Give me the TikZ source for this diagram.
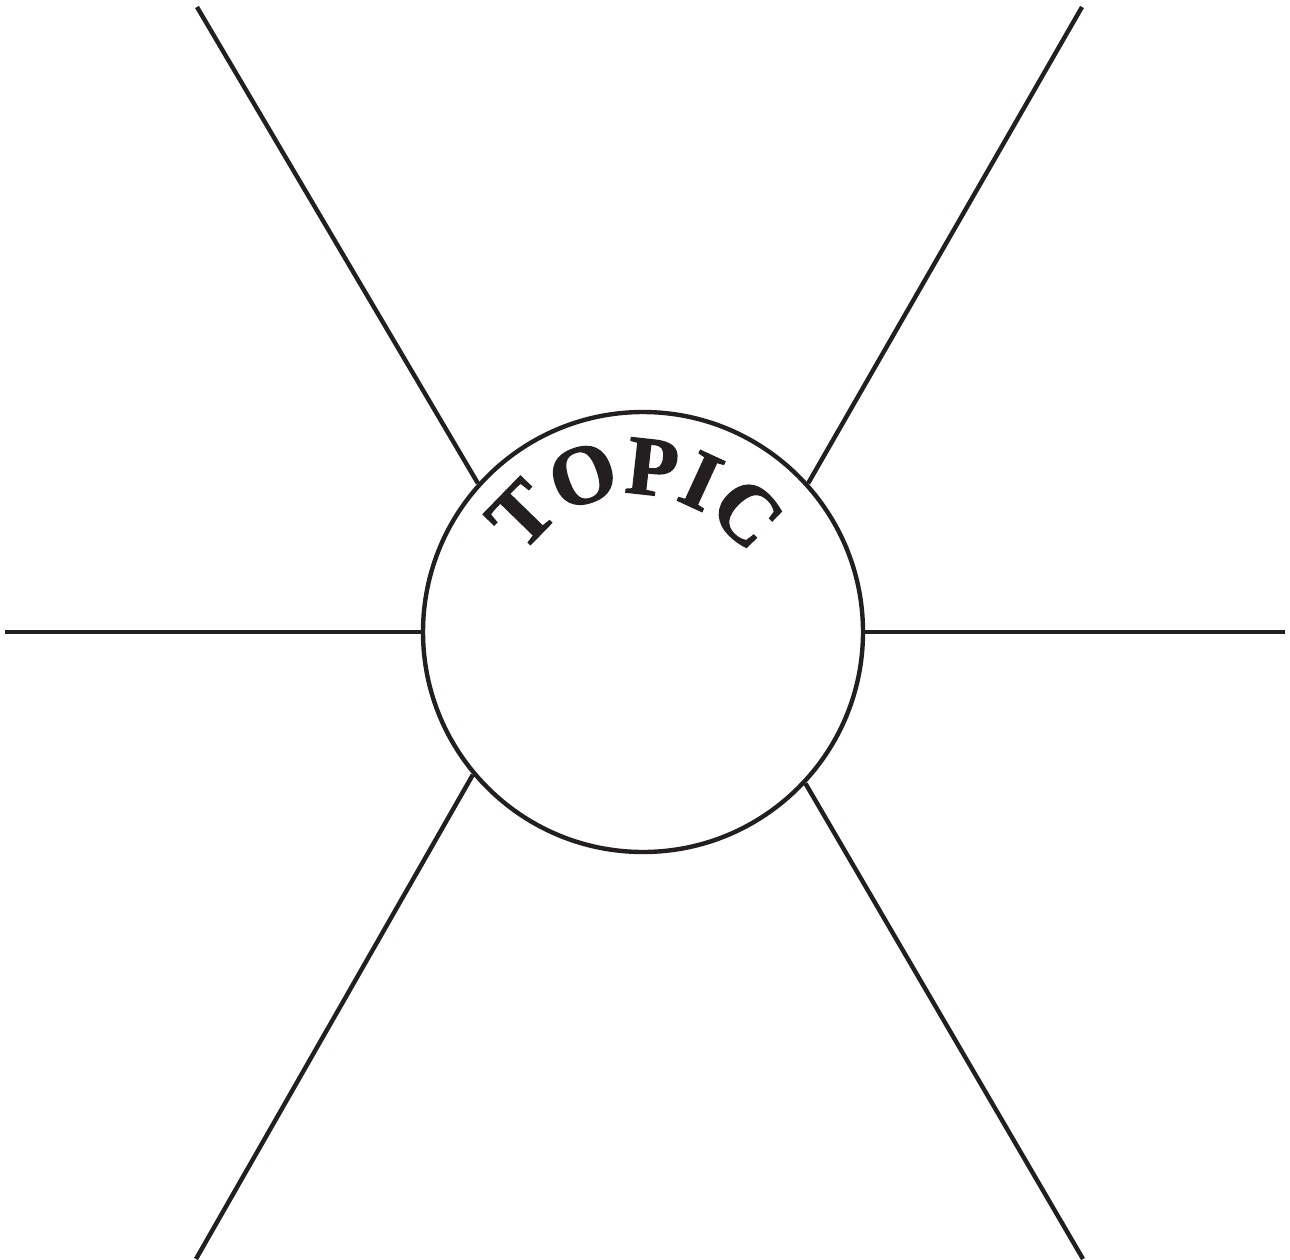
\documentclass[tikz,border=0pt]{standalone}
\usepackage{fontspec}
\newfontfamily\topicfont[UprightFont={* Bold}, UprightFeatures={FakeBold=1.6}]{Liberation Serif}
\usetikzlibrary{decorations.text}
\tikzset{
  spoke/.style={line width=4.4pt, draw={rgb,255:red,35;green,31;blue,32}},
  hub/.style={circle, draw={rgb,255:red,35;green,31;blue,32}, line width=4.4pt, minimum size=440pt, inner sep=0pt}
}
\begin{document}
\begin{tikzpicture}[x=1pt,y=-1pt]
\useasboundingbox (0,0) rectangle (1290,1260);
\node[hub] (c) at (643,632) {};
\coordinate (tl) at (197,7);
\coordinate (tr) at (1082,7);
\coordinate (bl) at (196,1259);
\coordinate (br) at (1083,1259);
\coordinate (l) at (5,632);
\coordinate (r) at (1285,632);
\draw[spoke] (tl) -- (c.138.7);
\draw[spoke] (tr) -- (c.42.2);
\draw[spoke] (bl) -- (c.220.6);
\draw[spoke] (br) -- (c.317.9);
\draw[spoke] (l) -- (c.west);
\draw[spoke] (r) -- (c.east);
\coordinate (tc) at (635,625);
\path[decorate, decoration={text along path, text align={fit to path},
  text={|\topicfont\fontsize{84pt}{84pt}\selectfont\color[RGB]{35,31,32}|TOPIC}}]
  ([shift={(-148:131)}]tc) arc[start angle=-148, end angle=-39, radius=131];
\end{tikzpicture}
\end{document}
